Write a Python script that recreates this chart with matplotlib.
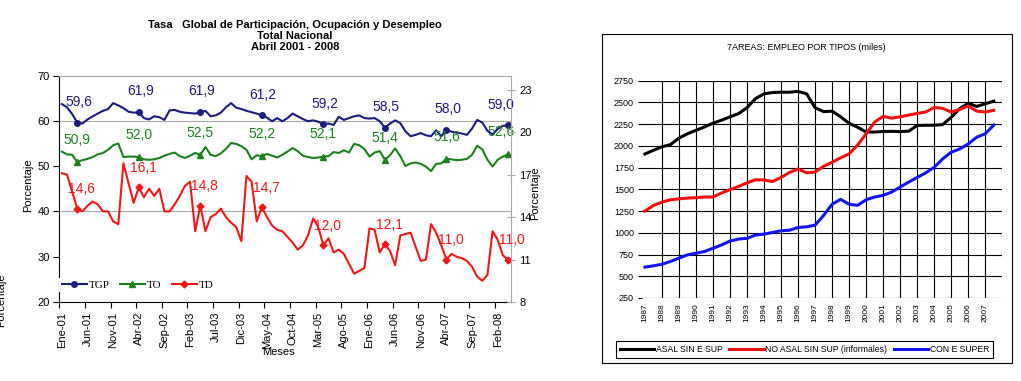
import numpy as np
import matplotlib.pyplot as plt
from matplotlib.patches import Rectangle

plt.rcParams['font.family'] = ['Liberation Sans', 'DejaVu Sans']

# ---- left chart: monthly rates, Ene-01 .. Abr-08 (88 months)
meses = ['Ene-01', 'Jun-01', 'Nov-01', 'Abr-02', 'Sep-02', 'Feb-03', 'Jul-03',
         'Dic-03', 'May-04', 'Oct-04', 'Mar-05', 'Ago-05', 'Ene-06', 'Jun-06',
         'Nov-06', 'Abr-07', 'Sep-07', 'Feb-08']

tgp = [63.7, 63.0, 61.5, 59.6, 59.4, 60.3, 61.0, 61.6, 62.2, 62.6,
       63.9, 63.4, 62.8, 62.0, 61.8, 61.9, 60.6, 60.3, 61.0, 60.8,
       60.2, 62.3, 62.4, 62.0, 61.8, 61.7, 61.6, 61.9, 62.2, 61.0,
       61.2, 61.8, 63.0, 63.9, 62.9, 62.6, 62.2, 61.9, 61.6, 61.2,
       60.7, 59.9, 60.6, 59.9, 60.6, 61.6, 61.0, 60.4, 59.9, 60.1,
       59.8, 59.2, 59.4, 59.1, 60.9, 60.2, 60.6, 61.0, 61.2, 60.6,
       60.5, 60.6, 59.9, 58.5, 59.4, 60.1, 59.5, 57.7, 56.6, 56.9,
       57.3, 56.8, 56.6, 57.9, 56.6, 58.0, 57.6, 57.4, 57.2, 56.9,
       58.3, 60.2, 59.6, 57.8, 57.0, 58.2, 58.9, 59.0]

to = [53.2, 52.6, 52.5, 50.9, 51.3, 51.6, 52.0, 52.6, 52.9, 53.6,
      54.6, 55.0, 52.0, 52.1, 52.1, 52.0, 51.5, 51.4, 51.5, 51.8,
      52.3, 52.7, 53.0, 52.2, 51.8, 52.3, 52.9, 52.5, 54.2, 52.5,
      52.2, 52.8, 53.8, 55.1, 54.9, 54.4, 53.6, 51.5, 52.4, 52.2,
      52.7, 52.3, 51.9, 52.5, 53.2, 54.0, 53.3, 52.3, 52.0, 51.8,
      51.9, 52.1, 52.2, 53.1, 52.9, 53.5, 53.0, 54.9, 54.6, 53.8,
      52.1, 53.0, 53.3, 51.4, 52.4, 53.9, 52.2, 50.0, 50.6, 50.8,
      50.5, 49.9, 48.9, 50.5, 50.6, 51.6, 51.5, 51.3, 51.4, 51.6,
      52.5, 54.5, 53.7, 51.4, 49.9, 51.4, 52.1, 52.6]

td = [17.1, 17.0, 15.8, 14.6, 14.4, 14.8, 15.1, 14.9, 14.4, 14.4,
      13.7, 13.5, 17.8, 16.4, 15.0, 16.1, 15.4, 16.0, 15.5, 16.0,
      14.4, 14.4, 14.9, 15.5, 16.2, 16.5, 13.0, 14.8, 13.0, 14.0,
      14.2, 14.6, 14.0, 13.6, 13.3, 12.3, 16.9, 16.5, 13.7, 14.7,
      14.0, 13.4, 13.1, 13.0, 12.6, 12.2, 11.7, 12.0, 12.7, 13.9,
      13.3, 12.0, 12.5, 11.5, 11.7, 11.4, 10.7, 10.0, 10.2, 10.4,
      13.2, 13.1, 11.5, 12.1, 11.6, 10.6, 12.7, 12.8, 12.9, 11.9,
      10.9, 11.0, 13.5, 12.9, 12.0, 11.0, 11.4, 11.2, 11.1, 10.9,
      10.5, 9.8, 9.5, 9.9, 13.0, 12.4, 11.3, 11.0]

abril = [3, 15, 27, 39, 51, 63, 75, 87]

# ---- right chart: employment by type (thousands), half-yearly 1987-2007
anios = list(range(1987, 2008))
semestres = np.arange(1987.0, 2008.0, 0.5)

asal = [1907, 1950, 1990, 2015, 2090, 2140, 2180, 2218, 2262, 2296,
        2335, 2372, 2440, 2545, 2600, 2615, 2618, 2618, 2628, 2600,
        2440, 2395, 2400, 2335, 2260, 2215, 2160, 2160, 2165, 2168,
        2165, 2170, 2235, 2238, 2238, 2246, 2330, 2430, 2490, 2455,
        2485, 2515]

no_asal = [1250, 1315, 1353, 1380, 1391, 1400, 1404, 1412, 1412, 1458,
           1496, 1534, 1575, 1610, 1608, 1590, 1637, 1695, 1734, 1690,
           1700, 1765, 1812, 1863, 1909, 2010, 2140, 2275, 2340, 2320,
           2335, 2355, 2374, 2390, 2443, 2432, 2390, 2420, 2460, 2400,
           2390, 2410]

con_sup = [605, 620, 638, 670, 708, 746, 765, 784, 822, 860,
           905, 928, 936, 974, 985, 1004, 1023, 1030, 1061, 1069,
           1088, 1200, 1328, 1385, 1328, 1316, 1381, 1412, 1431, 1469,
           1527, 1584, 1637, 1690, 1754, 1851, 1928, 1965, 2023, 2101,
           2140, 2240]


fig = plt.figure(figsize=(10.21, 3.81), dpi=100)

### left chart
c_tgp = '#1c1c7e'
c_to = '#1f7f1f'
c_td = '#f31818'
grey = '#a8a8a8'

ax = fig.add_axes([0.0581, 0.2073, 0.4424, 0.5945])
ax2 = ax.twinx()

m = np.arange(len(tgp))
l1, = ax.plot(m, tgp, color=c_tgp, lw=1.5, marker='o', ms=4, markevery=abril)
l2, = ax.plot(m, to, color=c_to, lw=1.5, marker='^', ms=5, markevery=abril)
l3, = ax2.plot(m, td, color=c_td, lw=1.5, marker='D', ms=3.5, markevery=abril)

# data labels above the April points; the last ones on the left axis sit a bit left
for a, serie, col, dx, dy, dx_last in [(ax, tgp, c_tgp, 1, 15, -5), (ax, to, c_to, 0, 16, -5),
                                       (ax2, td, c_td, 3, 14, 3)]:
    for i in abril:
        off = (dx_last if i == abril[-1] else dx, dy)
        a.annotate(f'{serie[i]:.1f}'.replace('.', ','), (i, serie[i]),
                   xytext=off, textcoords='offset points',
                   ha='center', va='center', color=col, fontsize=10)

ax.axhline(40, color=grey, lw=0.8, zorder=0)
ax.axhline(60, color=grey, lw=0.8, zorder=0)

ax.set_xlim(-0.5, 87.6)
ax.set_ylim(20, 70)
ax2.set_ylim(8, 24)

ax.set_xticks(np.arange(0, 88, 5) - 0.5)
ax.set_xticklabels([])
ax.set_xticks(np.arange(0, 88, 5), minor=True)
ax.set_xticklabels(meses, minor=True, rotation=90, fontsize=8)
ax.tick_params(axis='x', which='major', direction='out', length=4)
ax.tick_params(axis='x', which='minor', length=0, pad=7)

ax.set_yticks(range(20, 71, 10))
ax.tick_params(axis='y', direction='out', length=4, labelsize=8, pad=3)
ax2.set_yticks(range(8, 24, 3))
ax2.tick_params(axis='y', direction='inout', length=6, color=grey, labelsize=8, pad=3)

ax.spines['top'].set_color(grey)
ax.spines['right'].set_visible(False)
for s in ['left', 'top', 'bottom']:
    ax2.spines[s].set_visible(False)
ax2.spines['right'].set_color(grey)

leg = ax2.legend([l1, l2, l3], ['TGP', 'TO', 'TD'], ncol=3, loc='center left',
                 bbox_to_anchor=(0.0, 0.075), borderaxespad=0, numpoints=1,
                 prop={'family': 'Liberation Serif', 'size': 8},
                 handlelength=2.25, handletextpad=0.2, columnspacing=0.9,
                 frameon=True, fancybox=False, framealpha=1, borderpad=0.2)
leg.get_frame().set_facecolor('white')
leg.get_frame().set_edgecolor('none')

fig.text(0.289, 0.9055, 'Tasa   Global de Participación, Ocupación y Desempleo\n'
         'Total Nacional\nAbril 2001 - 2008', ha='center', va='center',
         fontsize=8, fontweight='bold', linespacing=1.15)
fig.text(278 / 1021, 1 - 352 / 381, 'Meses', ha='center', va='center', fontsize=8)
fig.text(28 / 1021, 1 - 185 / 381, 'Porcentaje', rotation=90, ha='center', va='center', fontsize=8)
fig.text(535 / 1021, 1 - 193 / 381, 'Porcentaje', rotation=90, ha='center', va='center', fontsize=8)
fig.text(1 / 1021, 1 - 300 / 381, 'Porcentaje', rotation=90, ha='center', va='center', fontsize=8)

### right chart
fig.patches.append(Rectangle((0.5896, 0.047), 0.4016, 0.864, transform=fig.transFigure,
                             fill=False, ec='black', lw=0.8))

axr = fig.add_axes([0.629, 0.218, 0.352, 0.570])
r1, = axr.plot(semestres, asal, color='black', lw=2.2)
r2, = axr.plot(semestres, no_asal, color='#ee1111', lw=2.2)
r3, = axr.plot(semestres, con_sup, color='#1414f0', lw=2.2)

axr.set_xlim(1986.84, 2007.96)
axr.set_ylim(250, 2750)
axr.vlines(anios[1:], 250, 2750, color='black', lw=0.8, zorder=0)
axr.set_yticks(range(250, 2751, 250))
axr.grid(axis='y', color='black', lw=0.8, zorder=0)
axr.set_axisbelow(True)
axr.set_xticks(anios)
axr.set_xticklabels([str(a) for a in anios], rotation=90, fontsize=6)
axr.tick_params(axis='x', length=0, pad=4)
axr.tick_params(axis='y', length=3, labelsize=6.5, pad=3)
for s in axr.spines.values():
    s.set_visible(False)

fig.text(0.790, 1 - 48 / 381, '7AREAS: EMPLEO POR TIPOS (miles)', ha='center', va='center', fontsize=6.5)

legr = fig.legend([r1, r2, r3], ['ASAL SIN E SUP', 'NO ASAL SIN SUP (informales)', 'CON E SUPER'],
                  loc='center', bbox_to_anchor=(0.788, 0.0827), ncol=3, fontsize=6.2,
                  frameon=True, fancybox=False, edgecolor='black', framealpha=1,
                  handlelength=4.0, handletextpad=0.15, columnspacing=0.8, borderpad=0.5)
legr.get_frame().set_linewidth(0.8)

fig.savefig('out.png', dpi=100)
